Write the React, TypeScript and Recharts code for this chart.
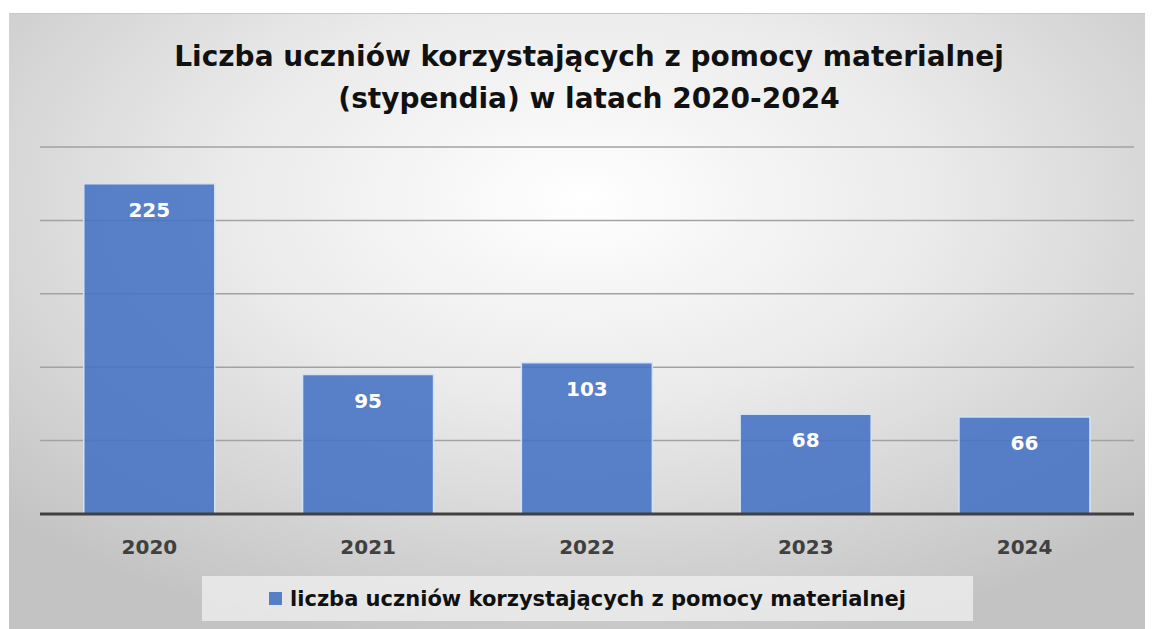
import React from "react";
import { BarChart, Bar, XAxis, YAxis, CartesianGrid, LabelList, Legend } from "recharts";

const categories = ["2020", "2021", "2022", "2023", "2024"];
const values = [225, 95, 103, 68, 66];
const yTicks = [0, 50, 100, 150, 200, 250];
const seriesName = "liczba uczniów korzystających z pomocy materialnej";
const titleLines = ["Liczba uczniów korzystających z pomocy materialnej", "(stypendia) w latach 2020-2024"];

const data = categories.map((c, i) => ({ year: c, value: values[i] }));

const FONT = "'DejaVu Sans', sans-serif";
const W = 1144;
const H = 616;

const LegendContent = () => (
  <div
    style={{
      width: 771,
      height: 45,
      background: "rgba(240,240,240,0.75)",
      display: "flex",
      alignItems: "center",
      justifyContent: "center",
      fontFamily: FONT,
      fontWeight: "bold",
      fontSize: 21,
      color: "#111",
    }}
  >
    <span style={{ display: "inline-block", width: 13, height: 13, background: "#5580C8", marginRight: 8 }} />
    <span>{seriesName}</span>
  </div>
);

export default function App() {
  return (
    <div
      style={{
        position: "relative",
        marginTop: 5,
        marginLeft: 1,
        width: W,
        height: H,
        background: "radial-gradient(ellipse 70% 75% at 50% 30%, #ffffff 0%, #eaeaea 45%, #c3c3c3 100%)",
        borderTop: "1px solid #c8c8c8",
        boxSizing: "border-box",
      }}
    >
      <div
        style={{
          position: "absolute",
          top: 22,
          left: 0,
          width: 1160,
          textAlign: "center",
          fontFamily: FONT,
          fontWeight: "bold",
          fontSize: 28,
          lineHeight: "42px",
          color: "#111",
        }}
      >
        <div>{titleLines[0]}</div>
        <div>{titleLines[1]}</div>
      </div>
      <BarChart
        width={W}
        height={H}
        data={data}
        margin={{ top: 133, right: 19, left: 31, bottom: 31 }}
        barCategoryGap="20%"
      >
        <CartesianGrid vertical={false} stroke="#a2a2a2" strokeWidth={1.5} />
        <YAxis hide domain={[0, 250]} ticks={yTicks} />
        <XAxis
          dataKey="year"
          axisLine={{ stroke: "#404040", strokeWidth: 3 }}
          tickLine={false}
          tick={{ fill: "#404040", fontSize: 20, fontWeight: "bold", fontFamily: FONT }}
          tickMargin={20}
          height={40}
        />
        <Legend
          content={<LegendContent />}
          wrapperStyle={{ position: "absolute", left: 193, top: 562, width: 771, height: 45 }}
        />
        <Bar
          dataKey="value"
          name={seriesName}
          fill="#4472C4"
          fillOpacity={0.88}
          stroke="#d4e2f6"
          strokeWidth={1.5}
          isAnimationActive={false}
        >
          <LabelList
            dataKey="value"
            position="insideTop"
            offset={19}
            fill="#ffffff"
            fontSize={20}
            fontWeight="bold"
            fontFamily={FONT}
          />
        </Bar>
      </BarChart>
    </div>
  );
}
